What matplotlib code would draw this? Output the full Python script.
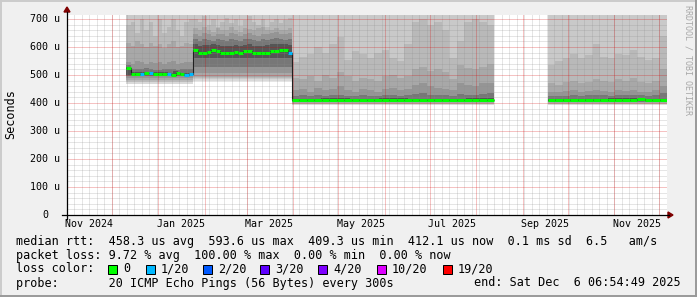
import numpy as np
import pandas as pd
import matplotlib
matplotlib.use("Agg")
import matplotlib.pyplot as plt
import matplotlib.dates as mdates
from matplotlib.patches import Rectangle, Polygon
from matplotlib.lines import Line2D
from matplotlib.collections import LineCollection

# ---- data (values in microseconds) ----
t_start = "2024-11-01 06:54:49"
t_end = "2025-12-06 06:54:49"
y_top = 714.3

seg1_span = ["2024-12-10 19:00", "2025-01-24 14:00"]
seg1_med = [526, 503, 504, 505, 506, 507, 505, 503, 503, 502, 501, 508, 502, 500, 502]
seg1_loss = [0, 0, 0, 1, 0, 1, 0, 0, 0, 1, 0, 0, 0, 1, 1]
seg1_hi3 = [680, 690, 650, 700, 660, 690, 640, 700, 650, 670, 700, 660, 640, 690, 700]
seg1_hi4 = [615, 605, 620, 610, 600, 615, 605, 610, 595, 610, 620, 600, 605, 615, 610]
seg1_hi5 = [545, 540, 550, 545, 540, 548, 542, 545, 538, 545, 550, 540, 542, 548, 545]
seg1_hi6 = [535, 520, 522, 520, 524, 520, 518, 518, 520, 522, 520, 518, 520, 520, 520]
seg1_hi7 = [530, 510, 511, 512, 512, 510, 509, 509, 508, 513, 508, 507, 508]
seg1_lo = [469, 474, 477, 482, 488, 495, 499]

seg2_span = ["2025-01-24 14:00", "2025-03-31 06:54"]
seg2_med = [590, 579, 577, 583, 591, 584, 580, 579, 577, 581, 580, 584,
            586, 580, 577, 579, 580, 586, 585, 589, 588, 577]
seg2_loss = [0, 0, 0, 0, 0, 0, 0, 0, 0, 0, 0, 0, 0, 0, 0, 0, 0, 0, 0, 0, 0, 1]
seg2_hi3 = [700, 690, 710, 680, 700, 670, 690, 705, 685, 700, 675, 695,
            710, 690, 680, 700, 670, 690, 700, 685, 695, 705]
seg2_hi4 = [668, 660, 670, 662, 655, 668, 660, 662, 670, 660, 655, 668,
            665, 660, 668, 672, 660, 662, 668, 660, 662, 668]
seg2_hi5 = [648, 640, 650, 645, 638, 648, 645, 640, 650, 645, 640, 648,
            650, 644, 640, 648, 645, 650, 652, 648, 646, 650]
seg2_hi6 = [628, 622, 630, 625, 620, 628, 625, 622, 630, 625, 620, 628,
            630, 624, 622, 628, 625, 630, 632, 628, 626, 630]
seg2_hi7 = [610, 605, 606, 608, 612, 606, 604, 603, 602, 606, 605, 608,
            610, 605, 602, 604, 606, 610, 610, 612, 610, 606]
seg2_lo = [480, 484, 488, 494, 506, 530, 560]

seg3_span = ["2025-03-31 06:54", "2025-08-13 06:54"]
seg3_med = [411, 410, 410, 411, 410, 410, 410, 411, 410, 410, 410, 410, 411, 410,
            410, 410, 410, 411, 410, 410, 410, 410, 411, 410, 410, 410, 411]
seg3_loss = [0, 0, 0, 0, 0, 0, 0, 0, 0, 0, 0, 0, 0, 0,
             0, 0, 0, 0, 0, 0, 0, 0, 0, 0, 0, 0, 0]
seg3_hi3 = [545, 565, 575, 600, 580, 610, 635, 555, 585, 575, 560, 580, 590, 560,
            550, 610, 690, 700, 680, 690, 660, 560, 620, 690, 700, 690, 680]
seg3_hi4 = [490, 485, 495, 480, 500, 490, 510, 495, 480, 490, 485, 480, 495, 500,
            490, 495, 520, 530, 515, 520, 510, 485, 535, 525, 520, 530, 540]
seg3_hi5 = [445, 450, 440, 455, 445, 450, 460, 445, 440, 450, 445, 440, 450, 455,
            445, 450, 465, 470, 460, 455, 450, 445, 470, 465, 460, 470, 470]
seg3_hi6 = [425, 428, 424, 430, 426, 428, 430, 425, 424, 427, 425, 424, 428, 430,
            426, 428, 432, 434, 430, 430, 428, 425, 432, 430, 430, 432, 434]
seg3_hi7 = [416, 417, 416, 417, 416, 416, 417]
seg3_lo = [393, 396, 398, 400, 402, 404, 407]

seg4_span = ["2025-09-17 23:00", "2025-12-06 06:54"]
seg4_med = [409, 409, 410, 410, 410, 410, 410, 410, 410, 410, 410, 410, 414, 410, 411, 411]
seg4_loss = [0, 0, 0, 0, 0, 0, 0, 0, 0, 0, 0, 0, 0, 0, 0, 0]
seg4_hi3 = [535, 550, 560, 575, 560, 570, 610, 565, 560, 575, 570, 590, 565, 555, 560, 640]
seg4_hi4 = [470, 465, 475, 480, 470, 475, 485, 480, 475, 485, 480, 490, 475, 470, 480, 520]
seg4_hi5 = [438, 440, 442, 445, 440, 442, 445, 443, 440, 445, 442, 448, 440, 440, 445, 460]
seg4_hi6 = [424, 426, 426, 428, 426, 427, 428, 428, 426, 428, 427, 430, 428, 426, 428, 435]
seg4_hi7 = [416, 416, 417, 416]
seg4_lo = [393, 396, 398, 400, 402, 404, 407]

smoke_colors = ["#D9D9D9", "#C9C9C9", "#B9B9B9", "#A8A8A8", "#959595", "#777777", "#555555"]

loss_labels = ["0", "1/20", "2/20", "3/20", "4/20", "10/20", "19/20"]
loss_colors = ["#00FF00", "#00B8FF", "#0059FF", "#5E00FF", "#7E00FF", "#DD00FF", "#FF0000"]

y_ticks = [0, 100, 200, 300, 400, 500, 600, 700]
x_labels = ["Nov 2024", "Jan 2025", "Mar 2025", "May 2025", "Jul 2025", "Sep 2025", "Nov 2025"]

legend_rtt = "median rtt:  458.3 us avg  593.6 us max  409.3 us min  412.1 us now  0.1 ms sd  6.5   am/s"
legend_loss = "packet loss: 9.72 % avg  100.00 % max  0.00 % min  0.00 % now"
legend_probe = "probe:       20 ICMP Echo Pings (56 Bytes) every 300s"
legend_end = "end: Sat Dec  6 06:54:49 2025"

# ---- layout (pixels) ----
W, H = 697, 297
L, R, T, B = 67, 667, 15, 215
MONO = "DejaVu Sans Mono"


def fx(x):
    return x / W


def fy(y):
    return 1 - y / H


def edges(span, n):
    return mdates.date2num(pd.date_range(span[0], span[1], periods=n + 1))


fig = plt.figure(figsize=(W / 100, H / 100), dpi=100, facecolor="#F0F0F0")
ax = fig.add_axes([fx(L), fy(B), (R - L) / W, (B - T) / H])
ax.set_facecolor("white")
for s in ax.spines.values():
    s.set_visible(False)
ax.set_xlim(mdates.date2num(pd.Timestamp(t_start)), mdates.date2num(pd.Timestamp(t_end)))
ax.set_ylim(0, y_top)
ax.set_xticks([])
ax.set_yticks([])

segments = [
    (seg1_span, seg1_med, seg1_loss, [seg1_hi3, seg1_hi4, seg1_hi5, seg1_hi6, seg1_hi7], seg1_lo),
    (seg2_span, seg2_med, seg2_loss, [seg2_hi3, seg2_hi4, seg2_hi5, seg2_hi6, seg2_hi7], seg2_lo),
    (seg3_span, seg3_med, seg3_loss, [seg3_hi3, seg3_hi4, seg3_hi5, seg3_hi6, seg3_hi7], seg3_lo),
    (seg4_span, seg4_med, seg4_loss, [seg4_hi3, seg4_hi4, seg4_hi5, seg4_hi6, seg4_hi7], seg4_lo),
]

# smoke
for span, med, loss, his, lo in segments:
    e = edges(span, 1)
    ax.stairs([y_top + 20], e, baseline=lo[0], fill=True, color=smoke_colors[0], lw=0, zorder=1)
    ax.stairs([y_top + 20], e, baseline=lo[1], fill=True, color=smoke_colors[1], lw=0, zorder=1)
    for k, hi in enumerate(his):
        ax.stairs(hi, edges(span, len(hi)), baseline=lo[k + 2], fill=True,
                  color=smoke_colors[k + 2], lw=0, zorder=1)

# grid: rrdtool's 1-on-1-off dots, drawn as faint solid 1px lines
months = pd.date_range("2024-12-01", "2025-12-01", freq="MS")
minor_days = pd.date_range("2024-11-06", "2025-12-06", freq="5D")
grid_minor = (0.55, 0.55, 0.55, 0.22)
grid_major = (0.85, 0.0, 0.0, 0.24)
gkw = dict(lw=0.72, zorder=2, antialiased=False)
for d in minor_days:
    ax.axvline(mdates.date2num(d), color=grid_minor, **gkw)
for v in range(20, 720, 20):
    if v % 100:
        ax.axhline(v, color=grid_minor, **gkw)
for d in months:
    ax.axvline(mdates.date2num(d), color=grid_major, **gkw)
for v in y_ticks[1:]:
    ax.axhline(v, color=grid_major, **gkw)

# median: thin dark step line, then loss-coloured band
chain_e, chain_v = [], []
for i, (span, med, loss, his, lo) in enumerate(segments[:3]):
    e = edges(span, len(med))
    chain_e.extend(e if i == 0 else e[1:])
    chain_v.extend(med)
ax.stairs(chain_v, chain_e, baseline=None, color="#202020", lw=0.8, zorder=3)
span, med = segments[3][0], segments[3][1]
ax.stairs(med, edges(span, len(med)), baseline=None, color="#202020", lw=0.8, zorder=3)

for span, med, loss, his, lo in segments:
    e = edges(span, len(med))
    segs = [[(e[i], med[i]), (e[i + 1], med[i])] for i in range(len(med))]
    cols = [loss_colors[l] for l in loss]
    ax.add_collection(LineCollection(segs, colors=cols, linewidths=2.2,
                                     capstyle="butt", zorder=4))

# y tick labels
for v in y_ticks:
    lab = f"{v} u" if v else "0"
    off = -7.5 if v else -19
    ax.annotate(lab, xy=(0, v), xycoords=("axes fraction", "data"),
                xytext=(off * 0.72, 0), textcoords="offset points",
                ha="right", va="center", fontsize=7.2, family=MONO)

# x tick labels, centred mid-month
for lab in x_labels:
    d = pd.Timestamp("1 " + lab) + pd.Timedelta(days=15)
    ax.annotate(lab, xy=(mdates.date2num(d), 0), xycoords=("data", "axes fraction"),
                xytext=(0, -9 * 0.72), textcoords="offset points",
                ha="center", va="center", fontsize=7.2, family=MONO)

# axes with arrows
fig.add_artist(Line2D([fx(62), fx(669)], [fy(B), fy(B)], color="black", lw=0.9))
fig.add_artist(Line2D([fx(L), fx(L)], [fy(219), fy(12)], color="black", lw=0.9))
fig.add_artist(Polygon([(fx(668), fy(212)), (fx(668), fy(218)), (fx(673), fy(B))],
                       closed=True, color="#7F0000", transform=fig.transFigure))
fig.add_artist(Polygon([(fx(64), fy(12)), (fx(70), fy(12)), (fx(L), fy(7))],
                       closed=True, color="#7F0000", transform=fig.transFigure))

# titles
fig.text(fx(11), fy(114), "Seconds", rotation=90, ha="center", va="center",
         fontsize=8.5, family=MONO)
fig.text(fx(688), fy(60), "RRDTOOL / TOBI OETIKER", rotation=270, ha="center",
         va="center", fontsize=6, family=MONO, color="#A8A8A8")

# legend
fig.text(fx(16), fy(241), legend_rtt, ha="left", va="center", fontsize=8.5, family=MONO)
fig.text(fx(16), fy(255), legend_loss, ha="left", va="center", fontsize=8.5, family=MONO)
fig.text(fx(16), fy(269), "loss color:", ha="left", va="center", fontsize=8.5, family=MONO)
box_x = [108, 146, 203, 260, 318, 377, 443]
for bx, lab, col in zip(box_x, loss_labels, loss_colors):
    fig.add_artist(Rectangle((fx(bx), fy(273.5)), 9 / W, 9 / H, facecolor=col,
                             edgecolor="black", lw=0.72, transform=fig.transFigure))
    fig.text(fx(bx + 15), fy(269), lab, ha="left", va="center", fontsize=8.5, family=MONO)
fig.text(fx(16), fy(283), legend_probe, ha="left", va="center", fontsize=8.5, family=MONO)
fig.text(fx(681), fy(283), legend_end, ha="right", va="center", fontsize=8.5, family=MONO)

# 3d frame
fig.add_artist(Line2D([0, 1], [fy(0.5), fy(0.5)], color="#CBCBCB", lw=1.4))
fig.add_artist(Line2D([fx(0.5), fx(0.5)], [0, 1], color="#CBCBCB", lw=1.4))
fig.add_artist(Line2D([0, 1], [fy(296), fy(296)], color="#999999", lw=1.4))
fig.add_artist(Line2D([fx(696), fx(696)], [0, 1], color="#999999", lw=1.4))

fig.savefig("out.png", dpi=100, facecolor=fig.get_facecolor())
